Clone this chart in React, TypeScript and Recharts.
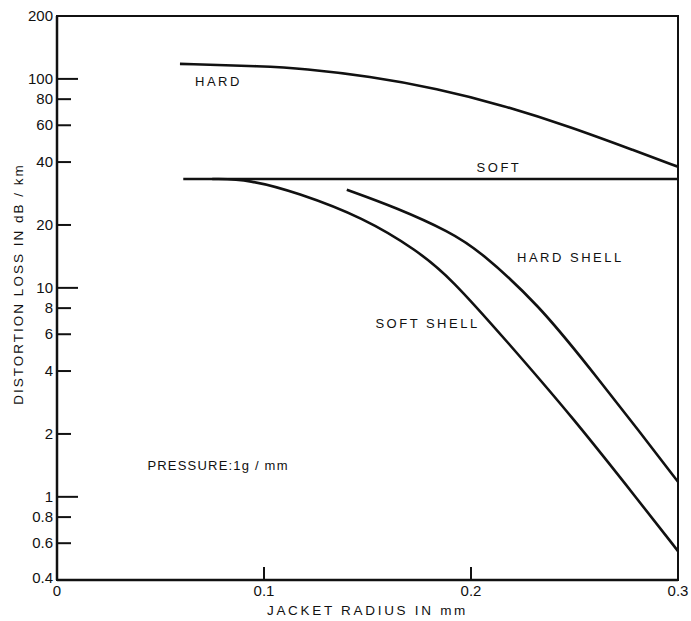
import React from 'react';
import { LineChart, Line, XAxis, YAxis, ReferenceArea, ReferenceDot } from 'recharts';

// Values (log y axis)
const xTicks = [0, 0.1, 0.2, 0.3];
const yTicks = [0.4, 0.6, 0.8, 1, 2, 4, 6, 8, 10, 20, 40, 60, 80, 100, 200];
const majorY = [1, 10, 100];

const hard = [
  { x: 0.0594, y: 118 },
  { x: 0.1, y: 115 },
  { x: 0.119, y: 112 },
  { x: 0.151, y: 103 },
  { x: 0.1836, y: 90 },
  { x: 0.215, y: 75 },
  { x: 0.248, y: 59 },
  { x: 0.28, y: 45 },
  { x: 0.3, y: 38 },
];

const soft = [
  { x: 0.061, y: 33.2 },
  { x: 0.3, y: 33.2 },
];

const softShell = [
  { x: 0.075, y: 33.2 },
  { x: 0.093, y: 33 },
  { x: 0.116, y: 28.6 },
  { x: 0.148, y: 21.7 },
  { x: 0.174, y: 15.1 },
  { x: 0.19, y: 11.2 },
  { x: 0.217, y: 5.6 },
  { x: 0.249, y: 2.41 },
  { x: 0.282, y: 0.93 },
  { x: 0.3, y: 0.55 },
];

const hardShell = [
  { x: 0.14, y: 29.5 },
  { x: 0.164, y: 24.2 },
  { x: 0.19, y: 18.5 },
  { x: 0.204, y: 15.1 },
  { x: 0.233, y: 8.25 },
  { x: 0.257, y: 4.17 },
  { x: 0.282, y: 2.02 },
  { x: 0.3, y: 1.18 },
];

const curveLabels = [
  { x: 0.078, y: 98, text: 'HARD', spacing: 2.5 },
  { x: 0.2135, y: 38, text: 'SOFT', spacing: 2.5 },
  { x: 0.248, y: 14.1, text: 'HARD SHELL', spacing: 2.5 },
  { x: 0.179, y: 6.77, text: 'SOFT SHELL', spacing: 2.5 },
  { x: 0.0778, y: 1.42, text: 'PRESSURE:1g / mm', spacing: 1.2 },
];

const FONT = '"Liberation Sans", Arial, Helvetica, sans-serif';
const INK = '#111';

const YTick = ({ x, y, payload }: any) => {
  const v = payload.value;
  const len = majorY.includes(v) ? 21 : 14;
  const showLine = v !== 200 && v !== 0.4;
  return (
    <g>
      {showLine && <line x1={x} x2={x + len} y1={y} y2={y} stroke={INK} strokeWidth={2} />}
      <text x={x - 4} y={v === 0.4 ? y - 2 : y} dy={5} textAnchor="end" fontSize={15} fill={INK} fontFamily={FONT}>
        {v}
      </text>
    </g>
  );
};

const XTick = ({ x, y, payload }: any) => {
  const v = payload.value;
  const showLine = v !== 0 && v !== 0.3;
  return (
    <g>
      {showLine && <line x1={x} x2={x} y1={y} y2={y - 13} stroke={INK} strokeWidth={2} />}
      <text x={x} y={y} dy={16} textAnchor="middle" fontSize={15} fill={INK} fontFamily={FONT}>
        {v}
      </text>
    </g>
  );
};

const TextLabel = (text: string, spacing: number) => (props: any) => {
  const { viewBox } = props;
  const cx = viewBox.x + (viewBox.width || 0) / 2;
  const cy = viewBox.y + (viewBox.height || 0) / 2;
  return (
    <text x={cx} y={cy} dy={5} textAnchor="middle" fontSize={13} letterSpacing={spacing} fill={INK} fontFamily={FONT}>
      {text}
    </text>
  );
};

const YAxisTitle = (props: any) => {
  const { viewBox } = props;
  const cx = viewBox.x + 18;
  const cy = viewBox.y + viewBox.height / 2 - 14;
  return (
    <text x={cx} y={cy} transform={`rotate(-90 ${cx} ${cy})`} dy={5} textAnchor="middle" fontSize={13.5} letterSpacing={2} fill={INK} fontFamily={FONT}>
      DISTORTION LOSS IN dB / km
    </text>
  );
};

const XAxisTitle = (props: any) => {
  const { viewBox } = props;
  const cx = viewBox.x + viewBox.width / 2;
  const cy = viewBox.y + 35;
  return (
    <text x={cx} y={cy} textAnchor="middle" fontSize={13.5} letterSpacing={2.7} fill={INK} fontFamily={FONT}>
      JACKET RADIUS IN mm
    </text>
  );
};

export default function App() {
  const series = [hard, soft, softShell, hardShell];
  return (
    <div style={{ position: 'absolute', left: 0, top: 0, background: '#fff', width: 691, height: 621 }}>
      <LineChart width={691} height={621} margin={{ top: 16, right: 13, bottom: 0, left: 0 }}>
        <XAxis
          type="number"
          dataKey="x"
          domain={[0, 0.3]}
          ticks={xTicks}
          tick={<XTick />}
          tickLine={false}
          tickSize={0}
          tickMargin={0}
          axisLine={{ stroke: INK, strokeWidth: 2.5 }}
          height={41}
          label={{ content: XAxisTitle }}
          allowDataOverflow
        />
        <YAxis
          type="number"
          dataKey="y"
          scale="log"
          domain={[0.4, 200]}
          ticks={yTicks}
          tick={<YTick />}
          tickLine={false}
          tickSize={0}
          tickMargin={0}
          axisLine={{ stroke: INK, strokeWidth: 2.5 }}
          width={57}
          interval={0}
          label={{ content: YAxisTitle }}
          allowDataOverflow
        />
        <ReferenceArea x1={0} x2={0.3} y1={0.4} y2={200} fill="none" stroke={INK} strokeWidth={2} ifOverflow="visible" />
        {series.map((d, i) => (
          <Line
            key={i}
            data={d}
            dataKey="y"
            type="basis"
            stroke={INK}
            strokeWidth={2.6}
            dot={false}
            activeDot={false}
            isAnimationActive={false}
          />
        ))}
        {curveLabels.map((l) => (
          <ReferenceDot
            key={l.text}
            x={l.x}
            y={l.y}
            r={0}
            stroke="none"
            fill="none"
            label={{ content: TextLabel(l.text, l.spacing) }}
          />
        ))}
      </LineChart>
    </div>
  );
}
